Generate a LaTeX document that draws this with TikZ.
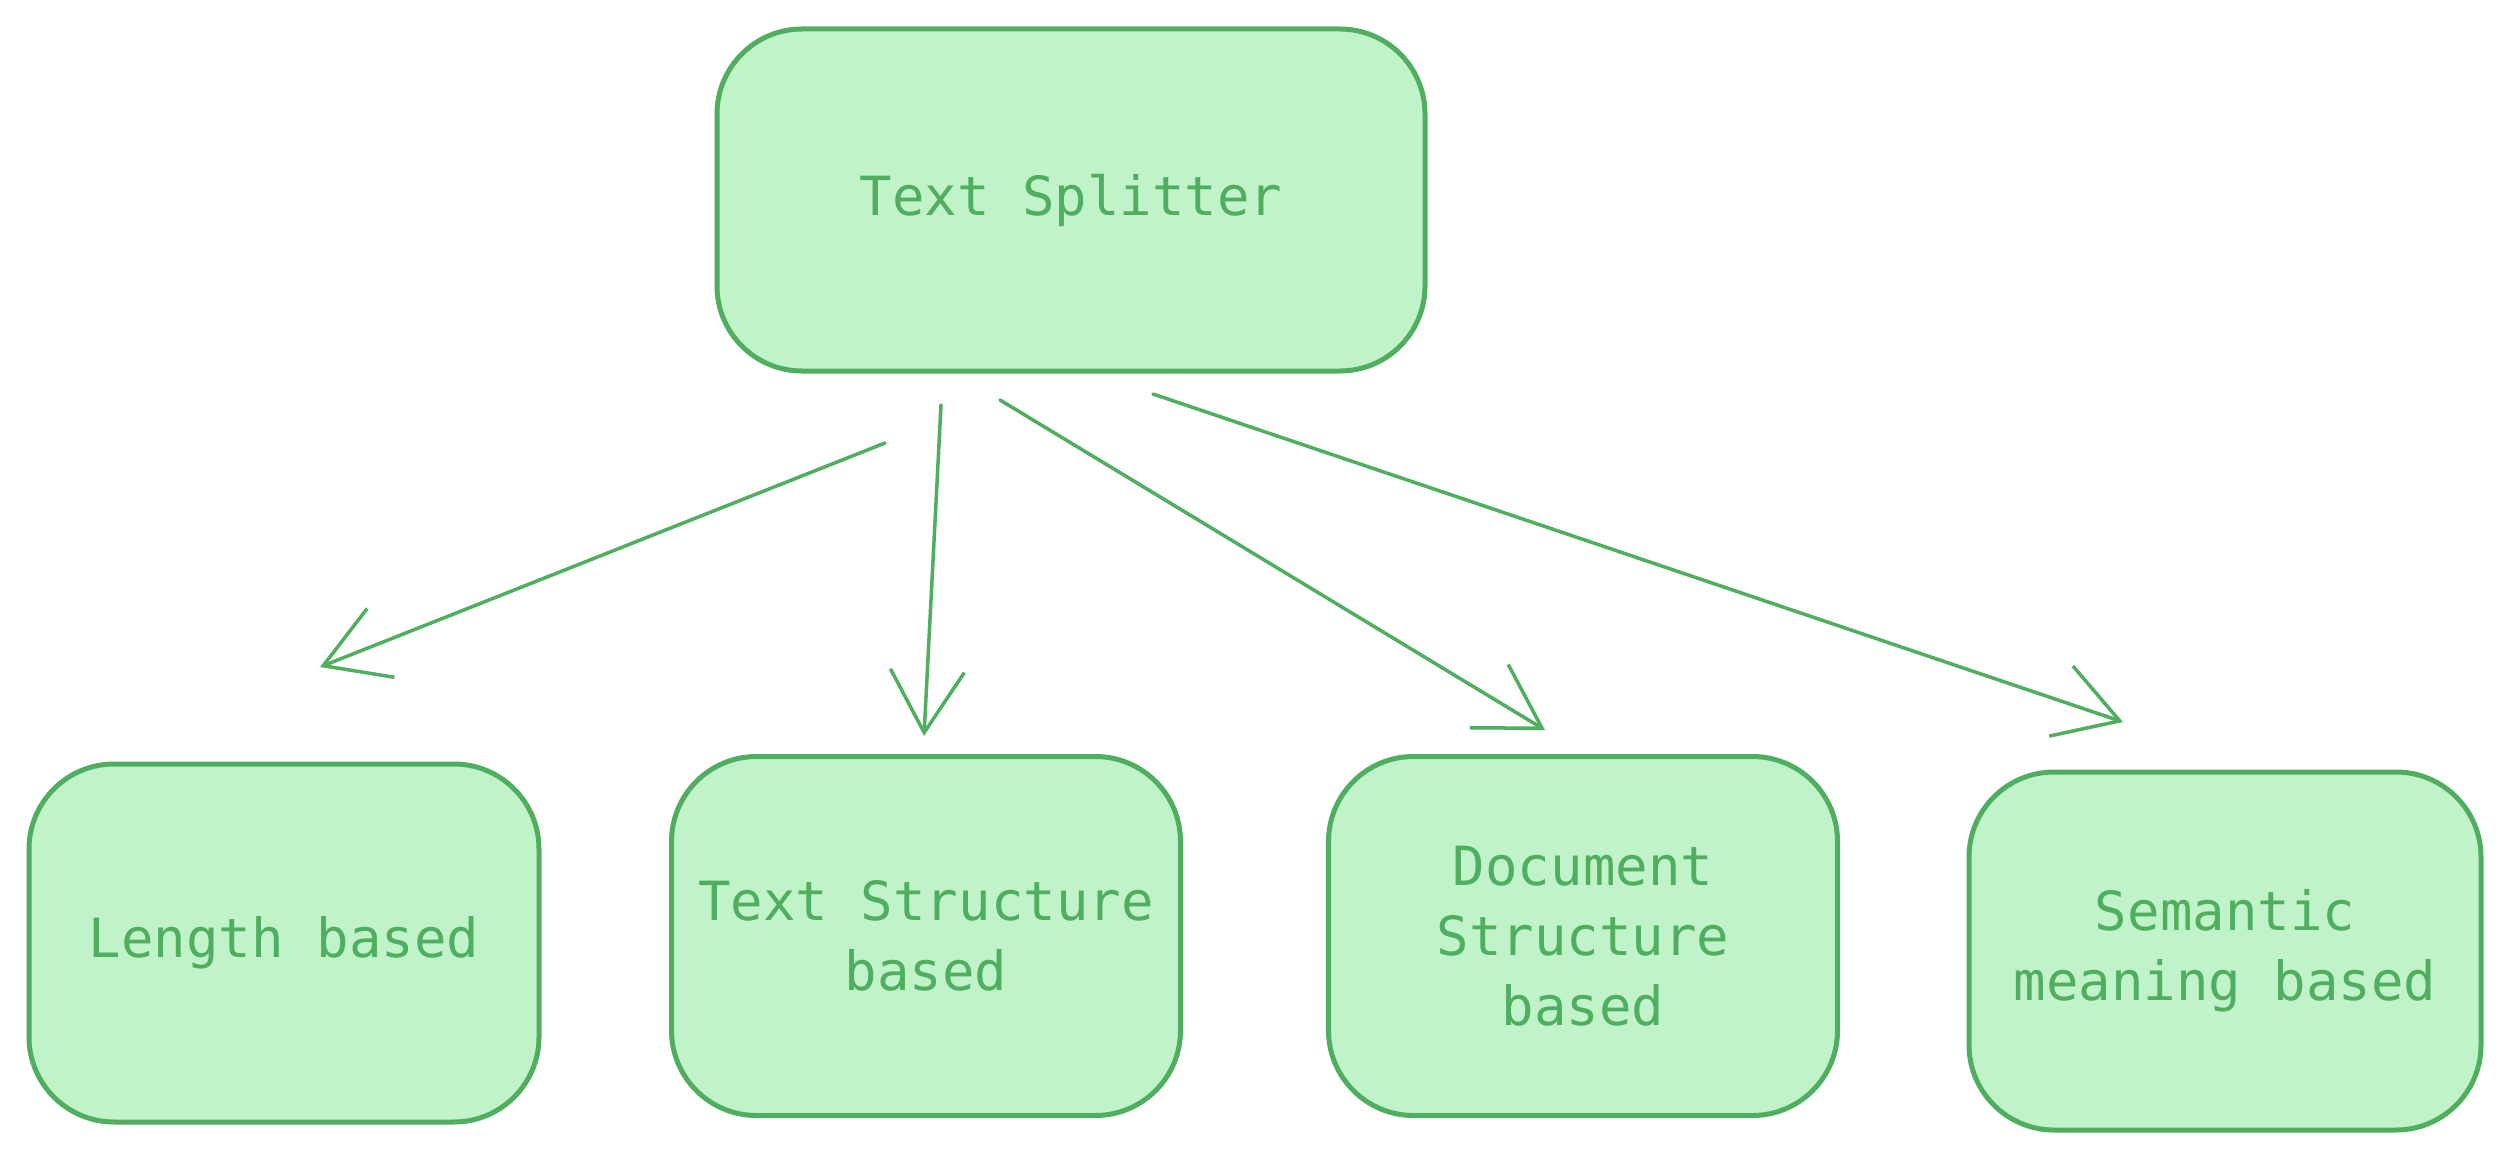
\documentclass[tikz,border=0pt]{standalone}
\usepackage{fontspec}
\setmonofont{DejaVu Sans Mono}
\usetikzlibrary{arrows.meta}
\definecolor{strokeg}{RGB}{80,174,96}
\definecolor{fillg}{RGB}{193,243,201}
\tikzset{
  box/.style={draw=strokeg, fill=fillg, line width=5pt, rounded corners=85pt,
    text=strokeg, font=\fontsize{54}{70}\selectfont\ttfamily, align=center,
    inner sep=0pt, outer sep=0pt},
  conn/.style={draw=strokeg, line width=3.5pt, line cap=round,
    -{Straight Barb[length=62pt,width=74pt,line width=3.5pt]}}
}
\begin{document}
\begin{tikzpicture}[x=1pt,y=-1pt]
\useasboundingbox[fill=white] (0,0) rectangle (2510,1161);
\node[box, minimum width=708pt, minimum height=342pt] (top) at (1071,200) {Text Splitter};
\node[box, minimum width=510pt, minimum height=358pt] (b1) at (284,943) {Length based};
\node[box, minimum width=509pt, minimum height=359pt] (b2) at (926,936) {Text Structure\\based};
\node[box, minimum width=509pt, minimum height=359pt] (b3) at (1583,936) {Document\\Structure\\based};
\node[box, minimum width=512pt, minimum height=358pt] (b4) at (2225,951) {Semantic\\meaning based};
\coordinate (s1) at (885,443); \coordinate (e1) at (320,667);
\coordinate (s2) at (941,405); \coordinate (e2) at (924,736);
\coordinate (s3) at (1000,400); \coordinate (e3) at (1545,730);
\coordinate (s4) at (1153,394); \coordinate (e4) at (2123,722);
\draw[conn] (s1) -- (e1);
\draw[conn] (s2) -- (e2);
\draw[conn] (s3) -- (e3);
\draw[conn] (s4) -- (e4);
\end{tikzpicture}
\end{document}
